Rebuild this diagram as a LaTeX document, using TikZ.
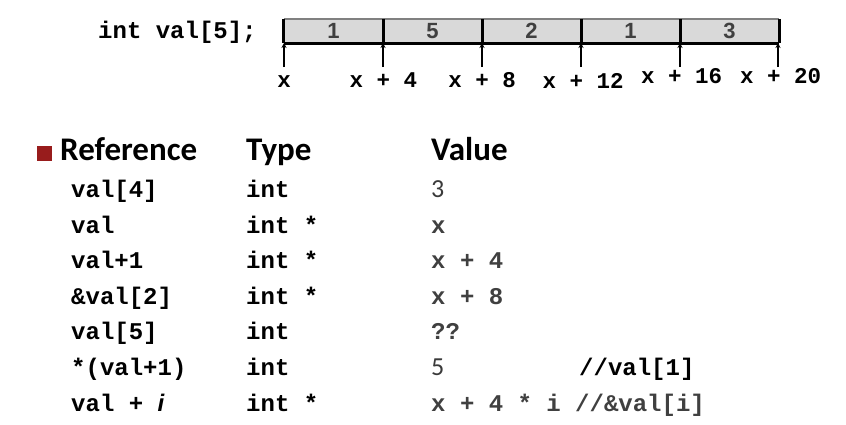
\documentclass[tikz,border=0pt]{standalone}
\usepackage{fontspec}
\setmainfont{Carlito}
\newfontfamily\codef{Liberation Mono}
\newfontfamily\itsans{Liberation Sans}
\usetikzlibrary{arrows.meta}
\definecolor{valgray}{RGB}{64,64,64}
\definecolor{cellgray}{RGB}{217,217,217}
\definecolor{bulletred}{RGB}{152,28,28}
\tikzset{
  code/.style={font=\codef\bfseries\fontsize{24}{24}\selectfont, inner sep=0pt, anchor=base west},
  codeval/.style={code, text=valgray},
  lbl/.style={font=\codef\bfseries\fontsize{22.5}{22.5}\selectfont, inner sep=0pt, anchor=base},
  head/.style={font=\bfseries\fontsize{33}{33}\selectfont, inner sep=0pt, anchor=base west},
  numval/.style={font=\fontsize{26}{26}\selectfont, text=valgray!90!black, inner sep=0pt, anchor=base west},
  cell/.style={minimum width=99pt, minimum height=24pt, inner sep=0pt, fill=cellgray, font=\itsans\bfseries\fontsize{22}{22}\selectfont, text=valgray},
  ptr/.style={line width=2.6pt, -{Stealth[length=5pt,width=5pt]}},
}
\begin{document}
\begin{tikzpicture}[x=1pt,y=-1pt]
\useasboundingbox (0,0) rectangle (846,424);
% declaration
\node[code] (decl) at (98,38) {int val[5];};
% cells
\foreach \i/\v [evaluate=\i as \cx using 284+99*(\i-1)+49.5] in {1/1,2/5,3/2,4/1,5/3}{
  \node[cell] (c\i) at (\cx,31) {\raisebox{-0.5pt}{\v}};
}
\draw[line width=2pt, draw=gray] (c1.north west) -- (c5.north east);
\draw[line width=2.6pt] (c1.south west) -- (c5.south east);
\draw[line width=3pt] (c1.north west) -- (c1.south west);
\draw[line width=3pt] (c5.north east) -- (c5.south east);
\foreach \i in {1,...,4}{
  \draw[line width=2.6pt] (c\i.north east) -- (c\i.south east);
}
% pointer arrows
\foreach \j/\ax in {0/284,1/383,2/482,3/581,4/680,5/778}{
  \coordinate (b\j) at (\ax,67);
  \coordinate (t\j) at (\ax,43);
  \draw[ptr] (b\j) -- (t\j);
}
\node[lbl] (l0) at (284,87) {x};
\node[lbl] (l1) at (383.5,87) {x + 4};
\node[lbl] (l2) at (482,87.5) {x + 8};
\node[lbl] (l3) at (583,88) {x + 12};
\node[lbl] (l4) at (681.5,83.5) {x + 16};
\node[lbl] (l5) at (780.5,83.5) {x + 20};
% table heading
\fill[bulletred] (37,146) rectangle (52,160.5);
\node[head] (hr) at (60,160) {Reference};
\node[head] (ht) at (246,160) {Type};
\node[head] (hv) at (431,160) {Value};
% rows
\node[code] (r1) at (71,197.5) {val[4]};
\node[code] (t1) at (246,197.5) {int};
\node[numval] (v1) at (431,197.5) {3};

\node[code] (r2) at (71,233.1) {val};
\node[code] (t2) at (246,233.1) {int *};
\node[codeval] (v2) at (431,233.1) {x};

\node[code] (r3) at (71,268.7) {val+1};
\node[code] (t3) at (246,268.7) {int *};
\node[codeval] (v3) at (431,268.7) {x + 4};

\node[code] (r4) at (71,304.3) {\&val[2]};
\node[code] (t4) at (246,304.3) {int *};
\node[codeval] (v4) at (431,304.3) {x + 8};

\node[code] (r5) at (71,339.9) {val[5]};
\node[code] (t5) at (246,339.9) {int};
\node[codeval] (v5) at (431,339.9) {??};

\node[code] (r6) at (71,375.5) {*(val+1)};
\node[code] (t6) at (246,375.5) {int};
\node[numval] (v6) at (431,375.5) {5};
\node[code] (m6) at (579,375.5) {//val[1]};

\node[code] (r7) at (71,411.1) {val + {\itsans\bfseries\itshape i}};
\node[code] (t7) at (246,411.1) {int *};
\node[codeval] (v7) at (431,411.1) {x + 4 * i //\&val[i]};
\end{tikzpicture}
\end{document}
